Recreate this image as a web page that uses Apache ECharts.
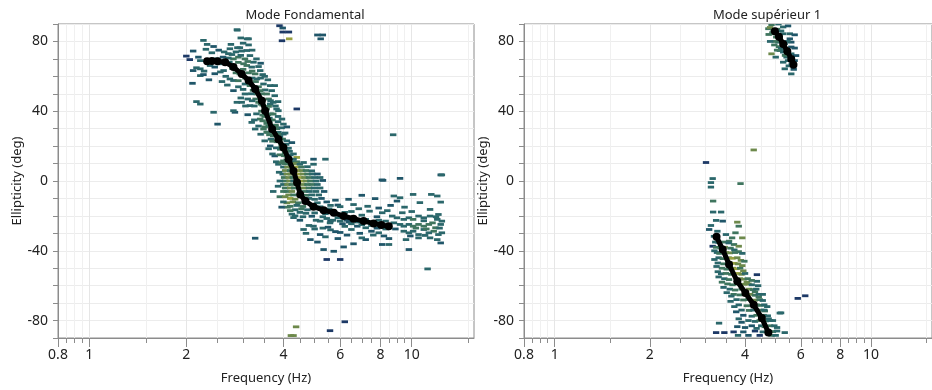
<!DOCTYPE html>
<html>
<head>
<meta charset="utf-8">
<script src="https://cdn.jsdelivr.net/npm/echarts@6/dist/echarts.min.js"></script>
<style>
html,body{margin:0;padding:0;background:#fff;}
#c{width:932px;height:390px;}
</style>
</head>
<body>
<div id="c"></div>
<script>
// ---------- Axis ticks ----------
const FREQ_MIN = 0.8, FREQ_MAX = 15.6;
const FREQ_TICKS_MAJOR = [0.8, 1, 2, 4, 6, 8, 10];
const FREQ_TICKS_MINOR = [0.85, 0.9, 0.95, 1.5, 2.5, 3, 3.5, 4.5, 5, 5.5, 6.5, 7, 7.5, 8.5, 9, 9.5, 15];
const ELL_MIN = -90, ELL_MAX = 90, ELL_STEP = 10;
const ELL_LABELS = [-80, -40, 0, 40, 80];
const PANEL_TITLES = ['Mode Fondamental', 'Mode supérieur 1'];

// ---------- Picked curves (Hz, deg) ----------
const fundCurveF = [2.32,2.40,2.50,2.64,2.80,2.97,3.12,3.27,3.43,3.51,3.69,3.86,4.00,4.15,4.30,4.41,4.51,4.68,4.96,5.33,5.73,6.15,6.60,7.09,7.62,8.05,8.49];
const fundCurveE = [68.7,68.8,68.6,68.1,65.3,61.4,57.6,52.8,46.0,40.3,29.8,24.0,19.2,12.5,5.8,-0.9,-7.7,-11.5,-14.7,-16.7,-18.2,-20.1,-21.6,-23.0,-24.3,-25.2,-25.9];
const hm1TopF = [4.97,5.12,5.28,5.44,5.60,5.69];
const hm1TopE = [85.8,82.7,78.6,74.4,70.0,66.6];
const hm1BotF = [3.25,3.40,3.56,3.78,4.01,4.26,4.52,4.74];
const hm1BotE = [-32.0,-39.3,-47.9,-57.5,-64.2,-70.9,-78.6,-86.9];

// ---------- Histogram cells [Hz, deg, density level 1..6] ----------
const fundCells = [
[3.89,89,1],[3.98,87.7,2],[3.98,85.4,1],[4.16,85.4,1],[3.96,80.4,1],[4.17,81.5,6],[2.88,86.5,3],[5.10,83.7,2],[5.30,83.7,2],[5.22,81.5,2],[3.09,81.5,3],
[2.26,80.6,3],[2.32,78.3,3],[2.43,77.1,2],[2.10,74.5,2],[2.00,71.6,1],[2.05,69.6,1],[2.18,71,2],[2.21,69,3],[2.15,64.9,3],[2.21,64.3,3],[2.10,63.3,2],
[2.27,63,3],[2.21,60.4,3],[2.26,61,2],[2.09,56,2],[2.37,66.2,3],[2.45,65.3,2],[2.55,67.2,3],[2.61,63.3,3],[2.73,58.5,3],[2.80,57.6,3],[2.72,68.1,3],
[2.77,72.5,3],[2.90,71,4],[3.04,70,4],[3.08,66.2,4],[3.19,65.3,3],[3.27,61.4,4],[3.31,58.5,3],[3.39,63.3,3],[3.35,65.6,3],[3.23,68.1,3],[3.08,74.8,3],
[3.15,71.9,3],[2.97,74.5,3],[3.01,67.2,4],[2.93,61.4,4],[3.04,55.6,3],[3.15,54.7,4],[3.47,55.6,3],[3.64,54.7,3],[3.76,54.7,3],[3.51,52.2,3],[3.68,51.8,3],
[3.55,49.9,4],[3.76,48.9,3],[3.60,47,4],[3.39,51.8,4],[3.31,49.9,4],[3.04,49.9,3],[2.95,47.6,3],[2.80,51.8,2],[2.87,45.1,3],[3.35,45.1,4],[3.72,45.1,3],
[3.81,41.3,3],[4.40,41.3,1],[2.43,39.4,3],[2.83,39.4,2],[2.15,45.5,3],[2.21,44.1,3],[3.41,44.1,4],[2.75,78.3,3],[2.73,75.8,3],[2.88,76.4,3],[2.93,76.4,3],
[2.87,86.7,3],[3.12,81.5,3],[2.50,32.6,2],[2.85,74,3],[2.95,72,3],[2.80,70,4],[2.70,70.5,3],[2.60,71,2],[2.48,70,3],[3.0,64,4],[3.12,62,4],[3.05,59,4],
[3.2,59,3],[3.22,52,4],[3.28,47,4],[3.42,40,4],[3.5,37,4],[3.55,33,4],[3.62,36,3],[3.58,28,3],
[2.3,75.5,3],[2.4,73.5,3],[2.52,75,2],[2.62,74,3],[2.7,73,3],[2.55,62.5,3],[2.65,60,3],[2.45,61.5,2],[2.35,58,2],[2.58,57,3],[2.68,55,3],[2.9,57.5,4],
[2.85,62,4],[2.78,64.5,4],[2.9,68,4],[3.1,68.5,4],[3.2,63,4],[3.28,57,4],[3.4,59,3],[3.45,61,3],[3.12,78,3],[3.0,79,3],[2.95,82,3],[3.2,75,3],[3.3,70,3],
[3.4,67.5,2],[3.5,60,3],[3.58,58,3],[3.35,54,4],[3.42,50,4],[3.18,50,3],[3.0,52.5,3],[2.9,54,3],[3.1,47,3],
[2.97,45.1,3],[2.80,40.3,3],[3.15,43.2,3],[3.64,44.1,3],[3.55,41.3,4],[3.72,38.4,4],[3.86,40.3,3],[3.96,35.5,3],[4.0,32.6,3],[3.19,33.6,3],[3.27,29.8,3],
[3.39,35.5,4],[3.47,29.8,4],[3.55,27.9,4],[3.72,25.9,4],[3.86,27.9,3],[4.0,26.9,3],[3.64,20.1,2],[3.91,18.2,4],[4.05,16.3,4],[3.76,14.4,2],[4.0,11.5,4],
[4.4,13.5,6],[4.96,12.5,2],[5.4,12.5,3],[4.62,10.6,3],[4.96,9.6,3],[3.86,9.6,3],[3.78,32,4],[3.82,30,4],[3.66,24,3],[3.95,21,4],[4.08,21,3],[4.18,17,3],
[4.12,14,4],[4.22,9,4],[4.28,11,3],[3.5,42.5,4],[3.58,38,4],[3.62,34,4],[3.68,31.5,4],[3.74,27.5,4],[3.8,26,4],[3.9,25.5,3],[3.82,22.5,4],[3.98,24,4],
[4.02,19,4],[4.08,17.5,4],[4.2,15,3],[4.16,12,4],[4.25,7.5,4],[4.3,4,4],[4.38,1.5,5],
[3.2,46,3],[3.45,46.5,4],[3.65,46,3],[3.85,45.5,3],[3.05,43,3],[3.25,43,3],[3.45,43.5,4],[3.6,42.8,4],[3.78,43,3],[3.1,38,2],[3.3,38.5,3],[3.45,37.8,4],
[3.65,38.5,4],[3.85,37,3],[3.25,35,3],[3.45,34.5,4],[3.7,35,4],[3.85,34,3],[3.35,31.5,3],[3.5,31,4],[3.6,31.5,4],[3.78,31.2,4],[3.95,30.5,3],[4.1,31,2],
[3.4,26.8,3],[3.62,26.5,4],[3.85,26.8,4],[4.05,27.5,3],[3.5,23,3],[3.7,22.8,4],[3.88,23.2,4],[4.1,23,3],[4.25,22,2],[3.6,18.5,3],[3.8,19,3],[3.95,19.5,4],
[4.15,18.8,3],[3.7,15.5,3],[3.9,15,4],[4.02,14.5,4],[4.3,15.5,3],[3.8,11,3],[3.95,10.5,4],[4.1,10,4],[4.4,11,4],
[4.1,12,4],[4.3,12.5,3],[4.05,10,4],[4.35,10,5],[4.5,9.6,3],[4.0,8,3],[4.12,8,5],[4.4,8,6],[4.55,8,4],[4.75,8.2,3],[4.05,6,5],[4.2,6,4],[4.42,6,6],
[4.56,6,5],[4.7,6,4],[4.9,5.8,3],[3.98,4,3],[4.1,4,5],[4.22,4,5],[4.45,4,6],[4.6,4,5],[4.75,4,4],[4.92,4,3],[5.1,4,2],[4.02,2,4],[4.15,2,5],[4.28,2,4],
[4.5,2,6],[4.65,2,5],[4.8,2,4],[5.0,2,3],[5.2,2,3],[4.05,0,4],[4.18,0,5],[4.3,0,3],[4.55,0,6],[4.7,0,5],[4.85,0,4],[5.05,0,3],[5.3,0.3,2],[4.0,-2,3],
[4.12,-2,5],[4.25,-2,4],[4.6,-2,5],[4.75,-2,4],[4.9,-2,4],[5.1,-2,3],[4.05,-4,4],[4.2,-4,5],[4.32,-4,4],[4.62,-4,5],[4.8,-4,4],[4.98,-4,3],[5.2,-4,3],
[4.1,-6,4],[4.25,-6,5],[4.65,-6,4],[4.82,-6,3],[5.05,-6,3],[5.35,-6,2],[4.15,-8,5],[4.3,-8,4],[4.7,-8.2,4],[4.9,-8,3],[5.15,-8,3],[4.2,-10,6],[4.35,-10.4,5],
[4.8,-10,3],[5.0,-10.5,3],[5.25,-10,2],[4.1,-12.5,5],[4.28,-12,5],[4.45,-12.5,4],[5.1,-12.5,3],[5.45,-12,2],[4.2,-14.5,4],[4.4,-14,3],[4.6,-14.6,4],
[5.2,-14.8,3],[5.6,-14,3],[5.9,-13.8,2],[4.35,-16.5,3],[4.55,-16,4],[4.75,-16.5,3],[5.55,-16,3],[6.0,-14.7,3],[4.5,-18,3],[4.7,-18.5,3],[5.0,-18.3,3],
[5.4,-18.7,3],[6.85,-15.9,3],[4.6,-20.5,3],[4.9,-20.2,2],[5.3,-20.5,3],[5.9,-21,3],[4.3,-21,3],[4.5,-22.5,2],[5.05,-22.5,3],[5.6,-23,2],[6.4,-23.5,2],
[4.8,-25.5,3],[5.58,-24,3],[4.96,-25.9,3],[6.78,-25.9,2],[7.2,-26.8,3],
[3.72,-6,3],[3.85,-3,3],[3.9,-9,4],[4.0,-6,4],[4.05,-9,5],[4.12,-15,4],[4.2,-17,4],[4.25,-19,3],[4.35,-20,3],[4.0,-12,3],[3.95,-15,2],[3.9,0,3],[3.88,5,3],
[6.37,-10.5,2],[7.0,-8.2,2],[7.7,-10.1,2],[8.08,0.6,2],[9.2,1.5,2],[12.3,3.5,2],[8.8,-8.6,3],[9.0,-11.5,2],[9.2,-9.6,3],[10.1,-7.7,3],[10.6,-12.4,3],
[11.5,-7.7,3],[12.0,-8.6,3],[12.3,-12.1,3],[11.4,-16.3,3],[12.1,-19.2,3],[7.4,-17.3,3],[8.1,-18.2,3],[8.7,-20.1,3],[9.0,-21.1,3],[6.5,-17.5,3],[7.0,-19.6,3],
[7.8,-20.5,2],[6.2,-18,3],[6.3,-22.5,2],[7.2,-22,3],[7.9,-22.5,3],[8.3,-23,3],[8.8,-24,3],[8.0,-26.5,3],[8.9,-27.5,2],[7.5,-28.8,2],[7.9,-29.7,3],[7.2,-33.6,2],
[7.0,-32.6,3],[8.1,-36.4,2],[8.5,-36.4,3],[6.5,-27.8,3],[6.1,-24.5,2],[8.76,26.5,3],[12.4,3.5,3],[8.15,0.4,2],
[5.2,-23,3],[5.45,-21.5,3],[5.7,-22.5,3],[6.0,-23,3],[6.2,-26,3],[6.5,-24.5,3],[6.8,-23.5,3],[7.0,-25,3],[7.5,-25.5,3],[7.8,-27,2],[8.3,-27.5,3],[5.3,-27,3],
[5.6,-28,3],[6.0,-29.5,2],[6.3,-31,2],[5.4,-32,3],[5.9,-33,2],[6.9,-30,2],[7.6,-31,3],[8.2,-31.5,2],[8.5,-33,2],
[5.8,-11,2],[6.6,-13.5,3],[7.3,-14.5,3],[7.9,-15.5,2],[8.4,-17,3],[8.6,-14,2],[9.5,-15,3],
[10.5,-20.1,3],[11.4,-20.1,3],[9.45,-22,3],[9.8,-21.1,3],[10.1,-22,4],[10.9,-21.1,3],[12.0,-22,3],[12.4,-23,3],[9.2,-24.9,3],[9.8,-24.9,3],[10.5,-24.9,4],
[11.3,-24.9,4],[12.3,-24.9,3],[9.45,-25.9,3],[10.1,-25.9,4],[10.9,-25.9,4],[11.85,-26.8,4],[9.45,-28.8,3],[10.1,-28.8,3],[10.9,-27.8,3],[11.7,-28.8,4],
[9.8,-29.7,3],[10.5,-30.7,3],[11.3,-29.7,3],[12.1,-30.7,3],[12.4,-29.7,3],[9.6,-33.6,3],[10.5,-32.6,3],[11.4,-32.6,3],[12.0,-33.6,3],[10.3,-27,4],[11.1,-27.5,4],
[11.6,-24,4],[12.2,-27,3],[11.0,-31.2,3],[9.9,-31.5,2],[12.3,-35.5,2],[9.8,-39.3,2],[11.2,-50.4,3],[10.9,-22.8,3],[11.9,-20.5,3],[9.35,-18.2,3],[10.0,-17.5,3],
[4.62,-27.8,3],[5.2,-30.7,2],[5.33,-39.3,2],[5.73,-40.3,2],[5.45,-45,1],[6.0,-45,1],[6.15,-37.8,2],[4.85,-33.6,2],[3.27,-32.8,2],[4.22,-88.6,5],[4.3,-88.6,5],
[4.38,-83.6,5],[5.58,-85.8,1],[6.2,-80.7,1],[5.0,-27.5,3],[5.5,-26.5,2],[5.8,-29,2],[4.7,-30,3],[5.1,-35,2],[6.6,-36,2]
];

const hm1Cells = [
[4.85,89.6,4],[5.10,90,3],[4.74,87.3,4],[4.92,86.3,4],[5.28,88.3,3],[5.47,88.9,2],[5.28,84.4,3],[5.54,84.4,3],[5.74,83.8,2],[5.15,82.5,3],[5.54,81.5,2],
[5.10,79.6,3],[5.34,78.7,3],[5.6,79.6,2],[5.6,76.8,2],[5.74,76.2,2],[5.15,74.8,3],[5.28,73.9,3],[4.85,72.9,5],[5.6,72.9,3],[5.8,71.9,2],[5.41,71,3],
[5.47,69,3],[5.74,69,2],[5.28,68.1,3],[5.34,64.3,3],[5.6,61.4,3],[4.92,84.4,4],[5.02,82.5,4],[4.80,88,5],[4.88,85,4],[5.0,80,4],[5.12,77,4],[5.2,76,3],
[5.35,72,4],[5.05,87,4],[5.2,86,3],[5.4,75,3],[5.45,80,3],[5.5,66,3],[5.62,67,3],[5.7,64,2],[4.75,84,4],[4.95,78,4],[5.05,75,4],[4.8,80,3],[5.0,71,3],
[3.01,10.6,1],[4.26,17.8,5],[3.12,-0.9,3],[3.16,1.4,3],[3.12,-3.5,3],[3.87,-1.5,4],[3.17,-11.5,4],[3.17,-17.8,3],[3.36,-17.8,3],[3.24,-22.6,3],[3.40,-23,2],
[3.12,-25.5,3],[3.08,-27.8,2],[3.78,-23.6,5],[3.82,-25.9,4],[3.27,-28.8,3],[3.19,-31.7,3],[3.48,-30.7,3],[3.64,-32.6,4],[3.92,-32.6,5],[3.73,-29.7,4],
[3.16,-37.4,1],[3.56,-34.5,4],[3.69,-36.4,4],[3.82,-37.4,5],[3.31,-81.5,3],[3.44,-86.9,1],[3.24,-86.9,1],[5.15,-75.7,3],[5.34,-86.9,3],[5.87,-67.3,1],
[6.2,-65.8,1],[5.2,-75.6,3],[4.36,-53.7,1],[4.36,-57.5,3],
[3.22,-35,3],[3.3,-35.2,3],[3.42,-35,4],[3.55,-35.5,3],[3.24,-38,4],[3.35,-38.3,4],[3.45,-38,5],[3.6,-38.5,4],[3.7,-39.5,3],[3.26,-41,3],[3.32,-41.5,4],
[3.48,-41,5],[3.58,-41.2,5],[3.72,-41,4],[3.3,-44,3],[3.4,-44.5,4],[3.55,-44,5],[3.65,-44.3,6],[3.78,-44,5],[3.28,-47,3],[3.42,-47.5,4],[3.58,-47,5],
[3.7,-47.2,6],[3.8,-47.5,5],[3.38,-50,4],[3.5,-50.5,4],[3.66,-50,5],[3.76,-50.3,6],[3.86,-50,4],[3.36,-53.2,3],[3.48,-53,4],[3.62,-53.5,4],[3.8,-53,6],
[3.9,-53.5,5],[4.0,-53,3],[3.44,-56,3],[3.56,-56.5,4],[3.85,-56,5],[3.96,-56.3,5],[4.08,-56,4],[3.52,-59,4],[3.65,-59.5,4],[3.78,-59,4],[3.98,-59.2,5],
[4.1,-59,5],[4.2,-59.5,3],[3.58,-62,3],[3.72,-62.5,4],[3.9,-62,4],[4.12,-62,5],[4.24,-62.3,4],[4.34,-62,3],[3.68,-65,4],[3.85,-65.3,4],[4.15,-65,5],
[4.3,-65.5,4],[4.42,-65,3],[3.76,-68,3],[3.95,-68.2,4],[4.1,-68,4],[4.3,-68.3,5],[4.45,-68,4],[4.55,-68.5,3],[3.82,-71,3],[4.05,-71.5,4],[4.35,-71,4],
[4.48,-71.3,4],[4.6,-71,3],[3.9,-74,3],[4.12,-74.2,4],[4.25,-74,3],[4.5,-74,4],[4.62,-74.5,4],[3.95,-77,2],[4.2,-77.5,3],[4.35,-77,4],[4.58,-77,4],
[4.72,-77.3,3],[4.1,-80,3],[4.3,-80.5,3],[4.45,-80,4],[4.65,-80.2,4],[4.8,-80,3],[3.78,-83.5,2],[4.2,-83,2],[4.5,-83,3],[4.62,-83.5,4],[4.8,-83,4],
[4.95,-83,3],[3.68,-86.5,1],[3.95,-86.5,2],[4.3,-86,1],[4.55,-86.5,3],[4.72,-86,4],[4.9,-86.3,4],[5.05,-86,3],[3.8,-88.5,3],[4.1,-88.5,2],[4.45,-88.5,1],
[4.85,-88.5,4],[5.0,-88.5,3],
[3.2,-40,3],[3.82,-40.5,4],[3.92,-41.5,3],[3.2,-45,3],[3.88,-45.5,5],[3.98,-46,4],[3.25,-49,3],[3.92,-48.5,5],[3.28,-52,3],[3.95,-51.5,5],[3.3,-55,3],
[3.38,-58,4],[4.05,-58,5],[3.42,-61,3],[4.2,-57,4],[3.5,-64,3],[3.62,-66,3],[4.3,-63.5,4],[4.4,-60,3],[3.6,-69,3],[4.42,-66.5,4],[4.55,-65,3],[3.7,-72,3],
[3.75,-75,2],[4.6,-74,3],[4.7,-72,3],[3.82,-79,3],[3.9,-81,2],[4.75,-79,3],[4.9,-80,3],[4.0,-84,2],[4.35,-84.5,3],[5.05,-84,3]
];

// ---------- Build ----------
const L = Math.log10;
const PALETTE = ['#1d3966','#205669','#2b676b','#3f755e','#6d894b','#98a040'];
const CELL_DLOG = 0.02, CELL_DE = 1.6;
const AXIS_COLOR = '#8c8c8c';
const FONT = 'Noto Sans';

function cellSeries(cells, idx){
  return {
    type:'custom', xAxisIndex: idx*2, yAxisIndex: idx, z: 2,
    data: cells.map(c => [L(c[0]), c[1], c[2]]),
    renderItem(params, api){
      const x = api.value(0), y = api.value(1), lv = api.value(2);
      const p0 = api.coord([x - CELL_DLOG/2, y + CELL_DE/2]);
      const p1 = api.coord([x + CELL_DLOG/2, y - CELL_DE/2]);
      return {type:'rect', shape:{x:p0[0], y:p0[1], width:p1[0]-p0[0], height:p1[1]-p0[1]},
              style:{fill: PALETTE[lv-1]}};
    },
    clip: true, silent: true
  };
}
function curveSeries(fs, es, idx){
  return {
    type:'line', xAxisIndex: idx*2, yAxisIndex: idx, z: 5,
    data: fs.map((f,i)=>[L(f), es[i]]),
    lineStyle:{color:'#000', width:5}, itemStyle:{color:'#000'},
    symbol:'circle', symbolSize:8, showSymbol:true, silent:true, animation:false
  };
}
function xAxes(idx){
  const base = {type:'value', gridIndex: idx, min: L(FREQ_MIN), max: L(FREQ_MAX), position:'bottom'};
  return [
    Object.assign({}, base, {
      axisLine:{show:true, onZero:false, lineStyle:{color:AXIS_COLOR}},
      axisTick:{show:true, length:9, lineStyle:{color:AXIS_COLOR}, customValues: FREQ_TICKS_MAJOR.map(L)},
      axisLabel:{show:true, customValues: FREQ_TICKS_MAJOR.map(L), margin:10, color:'#222', fontFamily:FONT, fontSize:14,
                 formatter: v => String(Math.round(Math.pow(10, v)*100)/100)},
      splitLine:{show:true, lineStyle:{color:'#e6e6e6'}},
      name:'Frequency (Hz)', nameLocation:'middle', nameGap:34,
      nameTextStyle:{color:'#222', fontFamily:FONT, fontSize:13}
    }),
    Object.assign({}, base, {
      axisLine:{show:false, onZero:false},
      axisTick:{show:true, length:5, lineStyle:{color:AXIS_COLOR}, customValues: FREQ_TICKS_MINOR.map(L)},
      axisLabel:{show:false},
      splitLine:{show:true, lineStyle:{color:'#f0f0f0'}}
    })
  ];
}
function yAxis(idx, gap){
  return {
    type:'value', gridIndex: idx, min: ELL_MIN, max: ELL_MAX, interval: ELL_STEP,
    axisLine:{show:true, onZero:false, lineStyle:{color:AXIS_COLOR}},
    axisTick:{show:true, length:5, lineStyle:{color:AXIS_COLOR}},
    axisLabel:{margin:10, color:'#222', fontFamily:FONT, fontSize:14,
               formatter: v => ELL_LABELS.indexOf(v) >= 0 ? String(v) : ''},
    splitLine:{show:true, lineStyle:{color:'#ececec'}},
    name:'Ellipticity (deg)', nameLocation:'middle', nameGap: gap,
    nameTextStyle:{color:'#222', fontFamily:FONT, fontSize:13}
  };
}

const chart = echarts.init(document.getElementById('c'), null, {renderer:'canvas'});
chart.setOption({
  animation:false,
  grid:[
    {left:58, top:24, width:416, height:314, show:true, borderColor:AXIS_COLOR, borderWidth:1, backgroundColor:'transparent'},
    {left:524, top:24, width:416, height:314, show:true, borderColor:AXIS_COLOR, borderWidth:1, backgroundColor:'transparent'}
  ],
  xAxis: xAxes(0).concat(xAxes(1)),
  yAxis: [yAxis(0, 34), yAxis(1, 33)],
  graphic:[
    {type:'text', x:305, y:15, style:{text:PANEL_TITLES[0], fill:'#222', font:'13px "Noto Sans"', textAlign:'center', textVerticalAlign:'middle'}},
    {type:'text', x:767, y:15, style:{text:PANEL_TITLES[1], fill:'#222', font:'13px "Noto Sans"', textAlign:'center', textVerticalAlign:'middle'}}
  ],
  series:[
    cellSeries(fundCells, 0),
    curveSeries(fundCurveF, fundCurveE, 0),
    cellSeries(hm1Cells, 1),
    curveSeries(hm1TopF, hm1TopE, 1),
    curveSeries(hm1BotF, hm1BotE, 1)
  ]
});
</script>
</body>
</html>
